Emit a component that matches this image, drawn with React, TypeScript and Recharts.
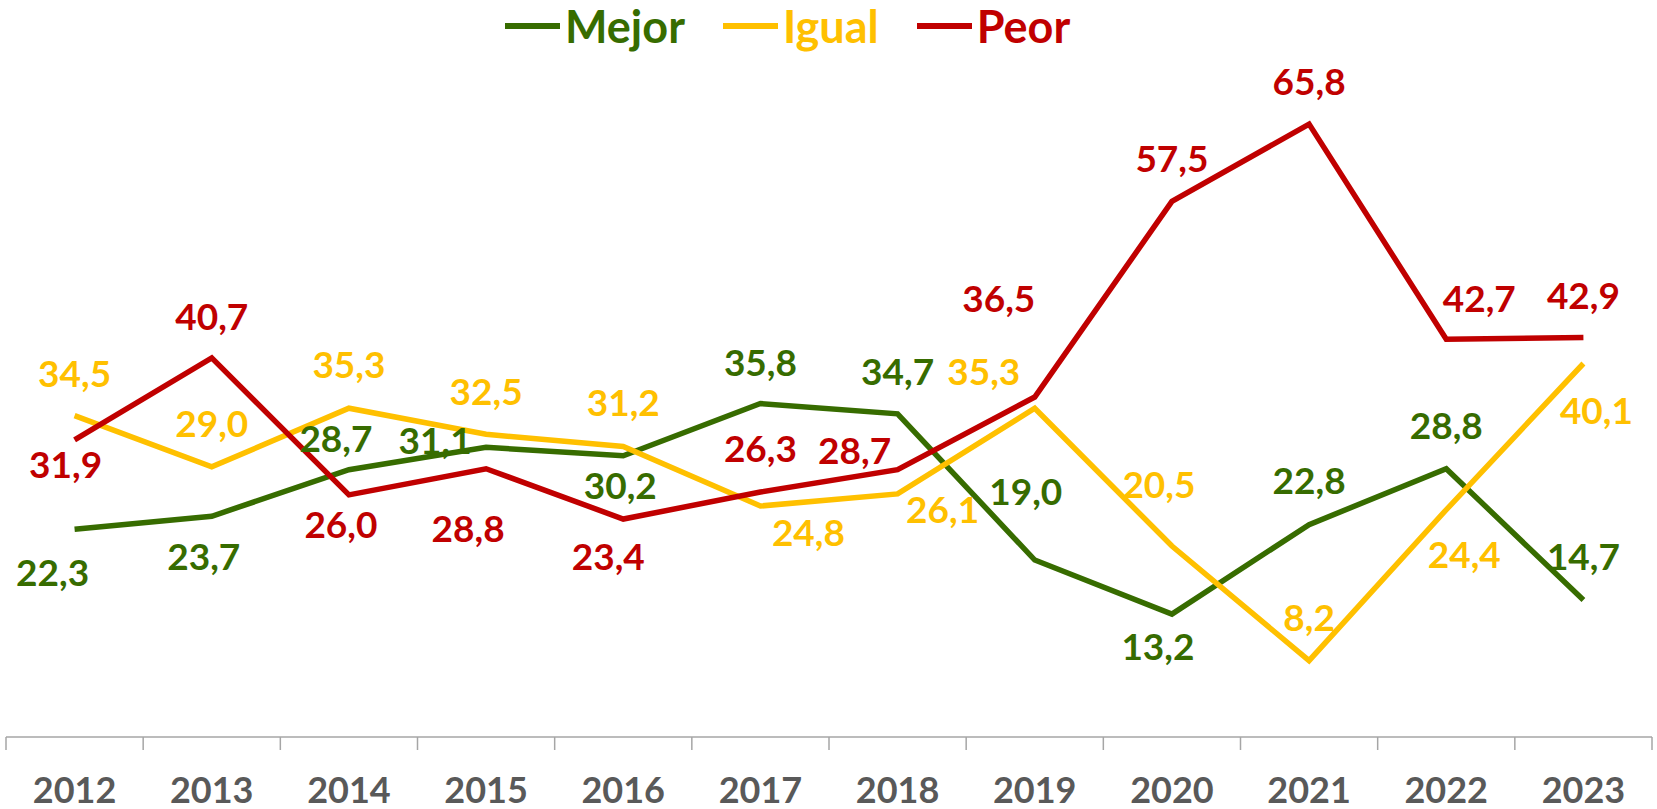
import { LineChart, Line, XAxis, YAxis, Legend, LabelList } from 'recharts'

// años del eje X
const years = ['2012', '2013', '2014', '2015', '2016', '2017', '2018', '2019', '2020', '2021', '2022', '2023']

// series (%)
const mejor = [22.3, 23.7, 28.7, 31.1, 30.2, 35.8, 34.7, 19.0, 13.2, 22.8, 28.8, 14.7]
const igual = [34.5, 29.0, 35.3, 32.5, 31.2, 24.8, 26.1, 35.3, 20.5, 8.2, 24.4, 40.1]
const peor  = [31.9, 40.7, 26.0, 28.8, 23.4, 26.3, 28.7, 36.5, 57.5, 65.8, 42.7, 42.9]

const legendOrder = ['Mejor', 'Igual', 'Peor']

// where each data label sits relative to its point (dx, dy of label centre)
const mejorLabelPos: [number, number][] = [
  [-22, 44], [-8, 41], [-13, -31], [-51, -6], [-3, 30], [0, -41],
  [0, -42], [-9, -68], [-14, 33], [0, -44], [0, -43], [0, -43]
]
const igualLabelPos: [number, number][] = [
  [0, -42], [0, -43], [0, -43], [0, -42], [0, -43], [48, 27],
  [45, 16], [-51, -36], [-13, -61], [0, -43], [18, 45], [13, 48]
]
const peorLabelPos: [number, number][] = [
  [-9, 25], [0, -41], [-8, 30], [-18, 60], [-15, 38], [0, -43],
  [-43, -19], [-36, -98], [0, -42], [0, -42], [33, -40], [0, -41]
]

const GREEN = '#376C00'
const YELLOW = '#FFC000'
const RED = '#C00000'
const FONT = 'Lato, "Open Sans", sans-serif'

const WIDTH = 1657
const HEIGHT = 809
const MARGIN = { top: 33, right: 5, left: 6, bottom: 0 }
const STEP = (WIDTH - MARGIN.left - MARGIN.right) / years.length

const data = years.map((year, i) => ({
  year,
  mejor: mejor[i],
  igual: igual[i],
  peor: peor[i]
}))

const fmt = (v: number) => v.toFixed(1).replace('.', ',')

function makeLabel(color: string, pos: [number, number][]) {
  return (props: any) => {
    const { x, y, value, index } = props
    const [dx, dy] = pos[index] ?? [0, -42]
    return (
      <text
        x={x + dx}
        y={y + dy + 13}
        textAnchor="middle"
        fill={color}
        fontSize={37}
        fontWeight={700}
        fontFamily={FONT}
      >
        {fmt(value)}
      </text>
    )
  }
}

// ticks between categories, label centred under the point
function YearTick(props: any) {
  const { x, y, payload, index, visibleTicksCount } = props
  const left = x - STEP / 2
  const right = x + STEP / 2
  return (
    <g>
      <line x1={left} x2={left} y1={y} y2={y + 13} stroke="#a6a6a6" strokeWidth={1.5} />
      {index === visibleTicksCount - 1 && (
        <line x1={right} x2={right} y1={y} y2={y + 13} stroke="#a6a6a6" strokeWidth={1.5} />
      )}
      <text
        x={x}
        y={y + 66}
        textAnchor="middle"
        fill="#595959"
        fontSize={36}
        fontWeight={700}
        fontFamily={FONT}
      >
        {payload.value}
      </text>
    </g>
  )
}

function LegendContent(props: any) {
  const items = [...(props.payload ?? [])].sort(
    (a: any, b: any) => legendOrder.indexOf(a.value) - legendOrder.indexOf(b.value)
  )
  return (
    <div
      style={{
        display: 'flex',
        alignItems: 'center',
        height: 52,
        paddingLeft: 505,
        gap: 38,
        fontFamily: FONT,
        fontWeight: 700,
        fontSize: 45
      }}
    >
      {items.map((entry: any) => (
        <div key={entry.value} style={{ display: 'flex', alignItems: 'center' }}>
          <span style={{ display: 'inline-block', width: 55, height: 6, background: entry.color, marginRight: 5 }} />
          <span style={{ color: entry.color, lineHeight: 1 }}>{entry.value}</span>
        </div>
      ))}
    </div>
  )
}

export default function App() {
  return (
    <div style={{ position: 'absolute', left: 0, top: 0, width: WIDTH, height: HEIGHT, background: '#fff' }}>
      <LineChart width={WIDTH} height={HEIGHT} data={data} margin={MARGIN}>
        <XAxis
          dataKey="year"
          height={72}
          padding={{ left: STEP / 2, right: STEP / 2 }}
          axisLine={{ stroke: '#a6a6a6', strokeWidth: 1.5 }}
          tickLine={false}
          tickSize={0}
          tickMargin={0}
          interval={0}
          tick={<YearTick />}
        />
        <YAxis hide domain={[0, 70]} />

        <Legend
          verticalAlign="top"
          content={<LegendContent />}
          wrapperStyle={{ top: 0, left: 0, width: WIDTH, height: 52 }}
        />

        <Line dataKey="mejor" name="Mejor" stroke={GREEN} strokeWidth={5.5} dot={false} activeDot={false} isAnimationActive={false}>
          <LabelList dataKey="mejor" content={makeLabel(GREEN, mejorLabelPos)} />
        </Line>
        <Line dataKey="igual" name="Igual" stroke={YELLOW} strokeWidth={5.5} dot={false} activeDot={false} isAnimationActive={false}>
          <LabelList dataKey="igual" content={makeLabel(YELLOW, igualLabelPos)} />
        </Line>
        <Line dataKey="peor" name="Peor" stroke={RED} strokeWidth={5.5} dot={false} activeDot={false} isAnimationActive={false}>
          <LabelList dataKey="peor" content={makeLabel(RED, peorLabelPos)} />
        </Line>
      </LineChart>
    </div>
  )
}
